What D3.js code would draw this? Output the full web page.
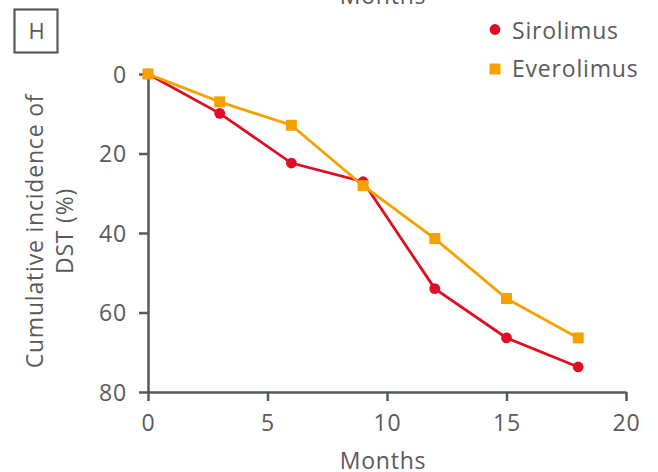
<!DOCTYPE html>
<html><head><meta charset="utf-8">
<script src="https://cdn.jsdelivr.net/npm/d3@7"></script>
<style>body{margin:0;background:#fff}svg{display:block}text{font-family:"Open Sans",sans-serif;fill:#5a5a5a;letter-spacing:0.8px}</style>
</head><body>
<svg id="c" width="658" height="472"></svg>
<script>
const months = [0, 3, 6, 9, 12, 15, 18];
const sirolimus = [0, 9.9, 22.4, 27.1, 54.0, 66.4, 73.7];
const everolimus = [0, 7.0, 12.9, 28.1, 41.4, 56.5, 66.4];
const xTicks = [0, 5, 10, 15, 20];
const yTicks = [0, 20, 40, 60, 80];
const seriesNames = ["Sirolimus", "Everolimus"];
const colors = ["#e00e24", "#f5a200"];

const svg = d3.select("#c");
const x = d3.scaleLinear().domain([0, 20]).range([148, 626]);
const y = d3.scaleLinear().domain([0, 80]).range([74, 392]);
const axisColor = "#555a5e";
const fs = "23px";

const xAxis = svg.append("g").attr("transform", "translate(0,392)")
  .call(d3.axisBottom(x).tickValues(xTicks).tickSize(9).tickSizeOuter(0));
const yAxis = svg.append("g").attr("transform", "translate(148,0)")
  .call(d3.axisLeft(y).tickValues(yTicks).tickSize(9).tickPadding(12).tickSizeOuter(0));
[xAxis, yAxis].forEach(a => {
  a.select(".domain").attr("stroke", axisColor).attr("stroke-width", 2.5);
  a.selectAll(".tick line").attr("stroke", axisColor).attr("stroke-width", 2.5);
  a.selectAll(".tick text").style("font-size", fs).style("font-family", "'Open Sans',sans-serif").attr("fill", "#5a5a5a");
});
xAxis.selectAll(".tick text").attr("y", 39).attr("dy", 0);
yAxis.selectAll(".tick text").attr("dy", "0.36em");

svg.append("text").attr("x", 383).attr("y", 469).attr("text-anchor", "middle").style("font-size", fs).text("Months");
svg.append("text").attr("x", 383).attr("y", 4).attr("text-anchor", "middle").style("font-size", fs).text("Months");

const yl = svg.append("text").attr("transform", "translate(43,231) rotate(-90)").attr("text-anchor", "middle").style("font-size", fs);
yl.append("tspan").attr("x", 0).attr("dy", 0).text("Cumulative incidence of");
yl.append("tspan").attr("x", 0).attr("dy", 30).text("DST (%)");

svg.append("rect").attr("x", 14.5).attr("y", 9.5).attr("width", 43).attr("height", 43).attr("fill", "none").attr("stroke", "#5a5a5a").attr("stroke-width", 2.2);
svg.append("text").attr("x", 36.5).attr("y", 39).attr("text-anchor", "middle").style("font-size", "22px").style("letter-spacing", "0").text("H");

const line = d3.line().x((d, i) => x(months[i])).y(d => y(d));
const data = [sirolimus, everolimus];
data.forEach((vals, si) => {
  svg.append("path").datum(vals).attr("d", line).attr("fill", "none").attr("stroke", colors[si]).attr("stroke-width", 2.8);
});
svg.append("g").selectAll("circle").data(sirolimus).join("circle")
  .attr("cx", (d, i) => x(months[i])).attr("cy", d => y(d)).attr("r", 5.4).attr("fill", colors[0]);
svg.append("g").selectAll("rect").data(everolimus).join("rect")
  .attr("x", (d, i) => x(months[i]) - 5.5).attr("y", d => y(d) - 5.5).attr("width", 11).attr("height", 11).attr("fill", colors[1]);

// legend
const lg = svg.append("g");
lg.append("circle").attr("cx", 495).attr("cy", 29.5).attr("r", 5.4).attr("fill", colors[0]);
lg.append("rect").attr("x", 489.5).attr("y", 63.5).attr("width", 11).attr("height", 11).attr("fill", colors[1]);
lg.append("text").attr("x", 512).attr("y", 39).style("font-size", fs).text(seriesNames[0]);
lg.append("text").attr("x", 512).attr("y", 77).style("font-size", fs).text(seriesNames[1]);
</script>
</body></html>
